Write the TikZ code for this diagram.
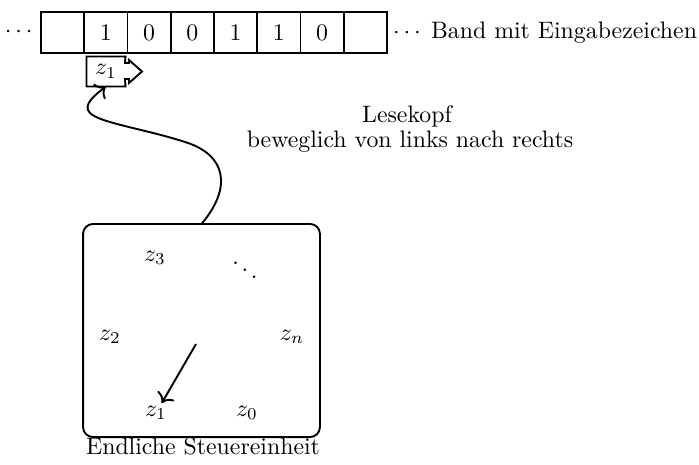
\documentclass[tikz,border=0pt]{standalone}
\usetikzlibrary{positioning,arrows.meta}

\tikzset{
    cell/.style={draw, thick, outer sep=0pt, inner sep=0pt,
        minimum width=18.17pt, minimum height=17.2pt},
    headbox/.style={inner sep=0pt, minimum width=16pt, minimum height=12.2pt},
    control/.style={draw, thick, rounded corners=4.2pt, outer sep=0pt,
        minimum width=99.5pt, minimum height=89.5pt},
    state/.style={inner sep=1pt},
    >={To[scale=1.15]}
}

\begin{document}
\begin{tikzpicture}[x=0.42pt, y=-0.42pt]
    \useasboundingbox (0,0) rectangle (699,464);

    % Band
    \foreach \sym [count=\i] in {{},1,0,0,1,1,0,{}} {
        \node[cell] (cell\i) at ({62.6+(\i-1)*43.25},32.5) {\sym};
    }
    \node[left=0pt of cell1] (ldots) {$\cdots$};
    \node[right=-1pt of cell8, anchor=west] (band) {$\cdots$\hspace{1pt} Band mit Eingabezeichen};

    % Lesekopf
    \node[headbox] (head) at (106,71.5) {$z_1$};
    \draw[thick] (125,63) -- (head.north east) -- (head.north west)
        -- (head.south west) -- (head.south east) -- (125,79) -- (129,79)
        -- (129,83) -- (142,71.5) -- (129,60) -- (129,63) -- cycle;
    \node[anchor=base] (kopf) at (407,123) {Lesekopf};
    \node[anchor=base] (kopfinfo) at (410,147) {beweglich von links nach rechts};

    % Steuereinheit
    \node[control] (ctrl) at (201.5,330.5) {};
    \node[anchor=base] (ctrlname) at (203,454) {Endliche Steuereinheit};
    \node[state] (s3) at (155,258) {$z_3$};
    \node[state] (sdots) at (245,263) {$\ddots$};
    \node[state] (s2) at (110,337) {$z_2$};
    \node[state] (sn) at (292,337) {$z_n$};
    \node[state] (s1) at (156,413) {$z_1$};
    \node[state] (s0) at (247,413) {$z_0$};
    \coordinate (ptr) at (196,344);
    \draw[thick, ->] (ptr) -- (s1);

    \draw[thick, ->] (ctrl.north) .. controls (232,188) and (227,155) .. (185,142)
        .. controls (145,129) and (100,123) .. (90,113)
        .. controls (82,105) and (95,95) .. (head.south);
\end{tikzpicture}
\end{document}
